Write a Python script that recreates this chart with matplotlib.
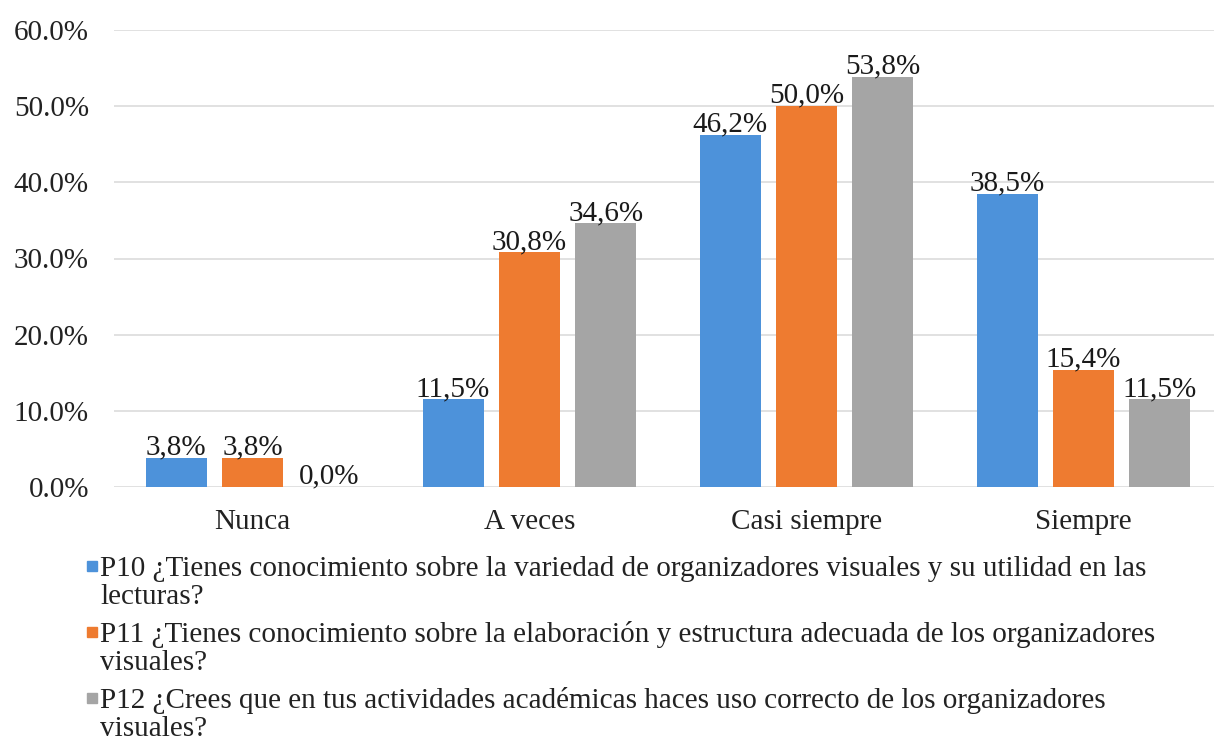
import matplotlib
matplotlib.use("Agg")
import matplotlib.pyplot as plt
from matplotlib.patches import Rectangle
import numpy as np

categories = ["Nunca", "A veces", "Casi siempre", "Siempre"]
series_names = [
    "P10 ¿Tienes conocimiento sobre la variedad de organizadores visuales y su utilidad en las\nlecturas?",
    "P11 ¿Tienes conocimiento sobre la elaboración y estructura adecuada de los organizadores\nvisuales?",
    "P12 ¿Crees que en tus actividades académicas haces uso correcto de los organizadores\nvisuales?",
]
p10 = [3.8, 11.5, 46.2, 38.5]
p11 = [3.8, 30.8, 50.0, 15.4]
p12 = [0.0, 34.6, 53.8, 11.5]
yticks = [0, 10, 20, 30, 40, 50, 60]

colors = ["#4D92DA", "#EE7B30", "#A5A5A5"]
series = [p10, p11, p12]

plt.rcParams['font.family'] = ['Liberation Serif', 'DejaVu Serif']
FS = 21

W, H = 1214, 742
fig = plt.figure(figsize=(W / 100, H / 100), dpi=100)
ax_left, ax_right = 114, 1222
ax_top, ax_bot = 30, 487
ax = fig.add_axes([ax_left / W, 1 - ax_bot / H, (ax_right - ax_left) / W, (ax_bot - ax_top) / H])
ax.set_xlim(-0.5, 3.5)
ax.set_ylim(0, 60)

x = np.arange(len(categories))
width = 0.22
step = 0.276
for i, (vals, col) in enumerate(zip(series, colors)):
    pos = x + (i - 1) * step
    ax.bar(pos, vals, width=width, color=col, zorder=3)
    for px, v in zip(pos, vals):
        ax.annotate(f"{v:.1f}".replace('.', ',') + "%", (px, v), xytext=(0, 2.5),
                    textcoords="offset points", ha="center", va="baseline",
                    fontsize=FS, color="#1a1a1a", zorder=4)

ax.set_yticks(yticks)
ax.set_yticklabels([f"{t:.1f}%" for t in yticks], fontsize=FS, color="#222222")
ax.set_xticks(x)
ax.set_xticklabels(categories, fontsize=FS, color="#222222")
ax.tick_params(axis='both', length=0)
ax.tick_params(axis='y', pad=18)
ax.tick_params(axis='x', pad=16)
ax.grid(axis='y', color="#D9D9D9", linewidth=1.1, zorder=0)
for s in ax.spines.values():
    s.set_visible(False)

# legend (manual)
ys = [575, 641, 707]
for name, col, yb in zip(series_names, colors, ys):
    fig.patches.append(Rectangle((87 / W, 1 - (yb - 4) / H), 10 / W, 10 / H,
                                 transform=fig.transFigure, color=col))
    fig.text(100 / W, 1 - (yb + 29) / H, name, fontsize=FS, color="#222222",
             ha="left", va="baseline", linespacing=1.12)

fig.savefig("out.png", dpi=100)
